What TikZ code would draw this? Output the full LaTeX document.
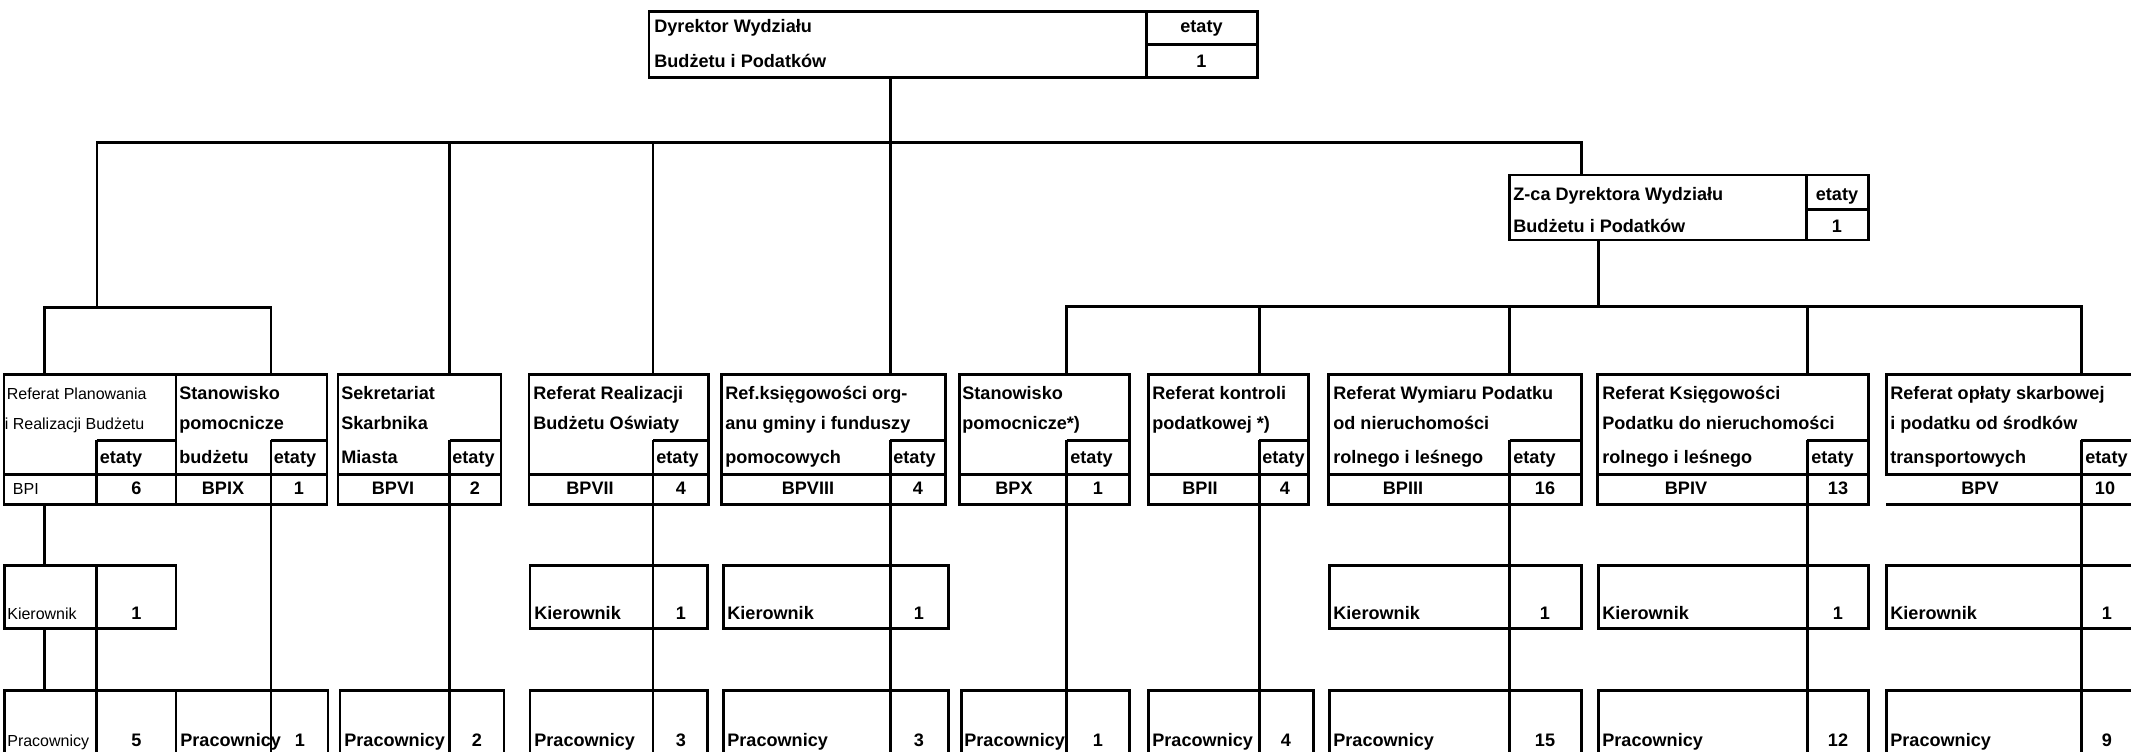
\documentclass[tikz,border=0pt]{standalone}
\usepackage{fontspec}
\setmainfont{Liberation Sans}
\newcommand\Cell[5]{%
  \node[cellbox, minimum width={(#4-#2)*0.02cm}, minimum height={(#5-#3)*0.02cm}, anchor=north west] (#1) at (#2,#3) {};}
\newcommand\TopBox[4]{%
  \Cell{#1}{#2}{374}{#4}{504}
  \draw[ln] (#3,440) -- (#4,440);
  \draw[ln] (#2,474) -- (#4,474);
  \draw[ln] (#3,440) -- (#3,504);
  \coordinate (#1-t) at (#3,374);
  \coordinate (#1-b) at (#3,504);}
\newcommand\KBox[4]{%
  \Cell{#1}{#2}{565}{#4}{628}
  \draw[ln] (#3,565) -- (#3,628);
  \coordinate (#1-t) at (#3,565);
  \coordinate (#1-b) at (#3,628);}
\newcommand\PBox[4]{%
  \Cell{#1}{#2}{690}{#4}{775}
  \draw[ln] (#3,690) -- (#3,775);
  \coordinate (#1-t) at (#3,690);}
\begin{document}
\begin{tikzpicture}[x=0.02cm,y=-0.02cm,
  ln/.style={line width=1.7pt},
  cellbox/.style={draw, line width=1.7pt, rectangle, inner sep=0pt, outer sep=0pt},
  bt/.style={font=\fontsize{10.3}{12}\selectfont\bfseries, inner sep=0pt},
  rt/.style={font=\fontsize{9.1}{11}\selectfont, inner sep=0pt},
  lw/.style={anchor=mid west},
  cc/.style={anchor=mid}]
\useasboundingbox (0,0) rectangle (2131,751);
\clip (0,0) rectangle (2131,751);

% ---------- texts ----------
\node[bt,lw] (d1) at (654,28) {Dyrektor Wydziału};
\node[bt,lw] (d2) at (654,63) {Budżetu i Podatków};
\node[bt,cc] (d3) at (1201.5,28) {etaty};
\node[bt,cc] (d4) at (1201.5,63) {1};

\node[bt,lw] (z1) at (1513,196) {Z-ca Dyrektora Wydziału};
\node[bt,lw] (z2) at (1513,228) {Budżetu i Podatków};
\node[bt,cc] (z3) at (1837,196) {etaty};
\node[bt,cc] (z4) at (1837,228) {1};

\node[rt,lw] (a1) at (6.6,395) {Referat Planowania};
\node[rt,lw] (a2) at (4.5,425) {i Realizacji Budżetu};
\node[bt,lw] (a3) at (99.5,459) {etaty};
\node[rt,lw] (a4) at (12.6,490) {BPI};
\node[bt,cc] (a5) at (136.5,490) {6};

\node[bt,lw] (b1) at (179,395) {Stanowisko};
\node[bt,lw] (b2) at (179,425) {pomocnicze};
\node[bt,lw] (b3) at (179,459) {budżetu};
\node[bt,lw] (b4) at (273.5,459) {etaty};
\node[bt,cc] (b5) at (223,490) {BPIX};
\node[bt,cc] (b6) at (299,490) {1};

\node[bt,lw] (c1) at (341,395) {Sekretariat};
\node[bt,lw] (c2) at (341,425) {Skarbnika};
\node[bt,lw] (c3) at (341,459) {Miasta};
\node[bt,lw] (c4) at (452,459) {etaty};
\node[bt,cc] (c5) at (393,490) {BPVI};
\node[bt,cc] (c6) at (475,490) {2};

\node[bt,lw] (e1) at (533,395) {Referat Realizacji};
\node[bt,lw] (e2) at (533,425) {Budżetu Oświaty};
\node[bt,lw] (e3) at (656,459) {etaty};
\node[bt,cc] (e4) at (590,490) {BPVII};
\node[bt,cc] (e5) at (681,490) {4};

\node[bt,lw] (f1) at (725,395) {Ref.księgowości org-};
\node[bt,lw] (f2) at (725,425) {anu gminy i funduszy};
\node[bt,lw] (f3) at (725,459) {pomocowych};
\node[bt,lw] (f4) at (893,459) {etaty};
\node[bt,cc] (f5) at (808,490) {BPVIII};
\node[bt,cc] (f6) at (918,490) {4};

\node[bt,lw] (g1) at (962,395) {Stanowisko};
\node[bt,lw] (g2) at (962,425) {pomocnicze*)};
\node[bt,lw] (g3) at (1070,459) {etaty};
\node[bt,cc] (g4) at (1014,490) {BPX};
\node[bt,cc] (g5) at (1098,490) {1};

\node[bt,lw] (h1) at (1152,395) {Referat kontroli};
\node[bt,lw] (h2) at (1152,425) {podatkowej *)};
\node[bt,lw] (h3) at (1262,459) {etaty};
\node[bt,cc] (h4) at (1200,490) {BPII};
\node[bt,cc] (h5) at (1285,490) {4};

\node[bt,lw] (i1) at (1333,395) {Referat Wymiaru Podatku};
\node[bt,lw] (i2) at (1333,425) {od nieruchomości};
\node[bt,lw] (i3) at (1333,459) {rolnego i leśnego};
\node[bt,lw] (i4) at (1513,459) {etaty};
\node[bt,cc] (i5) at (1403,490) {BPIII};
\node[bt,cc] (i6) at (1545,490) {16};

\node[bt,lw] (j1) at (1602,395) {Referat Księgowości};
\node[bt,lw] (j2) at (1602,425) {Podatku do nieruchomości};
\node[bt,lw] (j3) at (1602,459) {rolnego i leśnego};
\node[bt,lw] (j4) at (1811,459) {etaty};
\node[bt,cc] (j5) at (1686,490) {BPIV};
\node[bt,cc] (j6) at (1838,490) {13};

\node[bt,lw] (k1) at (1890,395) {Referat opłaty skarbowej};
\node[bt,lw] (k2) at (1890,425) {i podatku od środków};
\node[bt,lw] (k3) at (1890,459) {transportowych};
\node[bt,lw] (k4) at (2085,459) {etaty};
\node[bt,cc] (k5) at (1980,490) {BPV};
\node[bt,cc] (k6) at (2105,490) {10};

% Kierownik row
\node[rt,lw] (l1) at (7,615) {Kierownik};
\node[bt,cc] (l2) at (136.5,615) {1};
\node[bt,lw] (m1) at (534,615) {Kierownik};
\node[bt,cc] (m2) at (681,615) {1};
\node[bt,lw] (n1) at (727,615) {Kierownik};
\node[bt,cc] (n2) at (919,615) {1};
\node[bt,lw] (o1) at (1333,615) {Kierownik};
\node[bt,cc] (o2) at (1545,615) {1};
\node[bt,lw] (p1) at (1602,615) {Kierownik};
\node[bt,cc] (p2) at (1838,615) {1};
\node[bt,lw] (q1) at (1890,615) {Kierownik};
\node[bt,cc] (q2) at (2107,615) {1};

% Pracownicy row
\node[rt,lw] (r1) at (7,742) {Pracownicy};
\node[bt,cc] (r2) at (136.5,742) {5};
\node[bt,lw] (s1) at (180,742) {Pracownicy};
\node[bt,cc] (s2) at (300,742) {1};
\node[bt,lw] (t1) at (344,742) {Pracownicy};
\node[bt,cc] (t2) at (477,742) {2};
\node[bt,lw] (u1) at (534,742) {Pracownicy};
\node[bt,cc] (u2) at (681,742) {3};
\node[bt,lw] (v1) at (727,742) {Pracownicy};
\node[bt,cc] (v2) at (919,742) {3};
\node[bt,lw] (w1) at (964,742) {Pracownicy};
\node[bt,cc] (w2) at (1098,742) {1};
\node[bt,lw] (x1) at (1152,742) {Pracownicy};
\node[bt,cc] (x2) at (1286,742) {4};
\node[bt,lw] (y1) at (1333,742) {Pracownicy};
\node[bt,cc] (y2) at (1545,742) {15};
\node[bt,lw] (yy1) at (1602,742) {Pracownicy};
\node[bt,cc] (yy2) at (1838,742) {12};
\node[bt,lw] (zz1) at (1890,742) {Pracownicy};
\node[bt,cc] (zz2) at (2107,742) {9};

% ---------- boxes ----------
\Cell{dir}{649}{11.7}{1257}{77.3}
\draw[ln] (1146,11.7) -- (1146,77.3);
\draw[ln] (1146,44.3) -- (1257,44.3);

\Cell{zca}{1509}{175}{1868}{240}
\draw[ln] (1806,175) -- (1806,240);
\draw[ln] (1806,209.3) -- (1868,209.3);

\TopBox{bpi}{4}{96.5}{176}
\coordinate (bpi-v) at (44.5,374);
\coordinate (bpi-w) at (44.5,504);
\TopBox{bpix}{176}{271}{327}
\TopBox{bpvi}{338}{449.5}{501}
\TopBox{bpvii}{529}{653}{708}
\TopBox{bpviii}{721}{890}{945.5}
\TopBox{bpx}{959}{1066.6}{1129.3}
\TopBox{bpii}{1148}{1259}{1308}
\TopBox{bpiii}{1328.6}{1509.5}{1581}
\TopBox{bpiv}{1597.6}{1807}{1868}
% BPV (runs past the right edge)
\draw[ln] (2145,374) -- (1886,374) -- (1886,474) -- (2145,474);
\draw[ln] (1886,504) -- (2145,504);
\draw[ln] (2081,440) -- (2145,440);
\draw[ln] (2081,440) -- (2081,504);
\coordinate (bpv-t) at (2081,374);
\coordinate (bpv-b) at (2081,504);

\KBox{kbpi}{4.5}{96.5}{176}
\KBox{kbpvii}{530}{653}{707}
\KBox{kbpviii}{723}{890}{948}
\KBox{kbpiii}{1329}{1509.5}{1581}
\KBox{kbpiv}{1598}{1807}{1868}
\KBox{kbpv}{1886}{2081}{2145}

\PBox{pbpi}{4.5}{96.5}{176}
\PBox{pbpix}{176}{271}{328}
\PBox{pbpvi}{340}{449.5}{504}
\PBox{pbpvii}{530}{653}{707}
\PBox{pbpviii}{723}{890}{948}
\PBox{pbpx}{961}{1066.6}{1129}
\PBox{pbpii}{1148}{1259}{1313}
\PBox{pbpiii}{1329}{1509.5}{1581}
\PBox{pbpiv}{1598}{1807}{1868}
\PBox{pbpv}{1886}{2081}{2145}

% ---------- connectors ----------
\coordinate (mb) at (0,142.3);
\coordinate (sb) at (0,307.3);
\coordinate (zb) at (0,306.7);
\coordinate (mbl) at (97,142.3);
\coordinate (mbr) at (1581.7,142.3);
\coordinate (zv) at (1598,0);

% director down to BPVIII
\draw[ln] (dir.south -| bpviii-t) -- (bpviii-t);
% main bar
\draw[ln] (mbl |- sb) -- (mbl) -- (mbr) -- (zca.north -| mbr);
\draw[ln] (bpvi-t |- mb) -- (bpvi-t);
\draw[ln] (bpvii-t |- mb) -- (bpvii-t);
% small bar over BPI / BPIX
\draw[ln] (bpi-v) -- (bpi-v |- sb) -- (bpix-t |- sb) -- (bpix-t);
% Z-ca bar
\draw[ln] (zca.south -| zv) -- (zv |- zb);
\draw[ln] (bpx-t) -- (bpx-t |- zb) -- (bpv-t |- zb) -- (bpv-t);
\draw[ln] (bpii-t |- zb) -- (bpii-t);
\draw[ln] (bpiii-t |- zb) -- (bpiii-t);
\draw[ln] (bpiv-t |- zb) -- (bpiv-t);

% downward
\draw[ln] (bpi-w) -- (kbpi.north -| bpi-w);
\draw[ln] (kbpi.south -| bpi-w) -- (pbpi.north -| bpi-w);
\draw[ln] (kbpi-b) -- (pbpi-t);
\draw[ln] (bpix-b) -- (pbpix-t);
\draw[ln] (bpvi-b) -- (pbpvi-t);
\draw[ln] (bpvii-b) -- (kbpvii-t);
\draw[ln] (kbpvii-b) -- (pbpvii-t);
\draw[ln] (bpviii-b) -- (kbpviii-t);
\draw[ln] (kbpviii-b) -- (pbpviii-t);
\draw[ln] (bpx-b) -- (pbpx-t);
\draw[ln] (bpii-b) -- (pbpii-t);
\draw[ln] (bpiii-b) -- (kbpiii-t);
\draw[ln] (kbpiii-b) -- (pbpiii-t);
\draw[ln] (bpiv-b) -- (kbpiv-t);
\draw[ln] (kbpiv-b) -- (pbpiv-t);
\draw[ln] (bpv-b) -- (kbpv-t);
\draw[ln] (kbpv-b) -- (pbpv-t);
\end{tikzpicture}
\end{document}
